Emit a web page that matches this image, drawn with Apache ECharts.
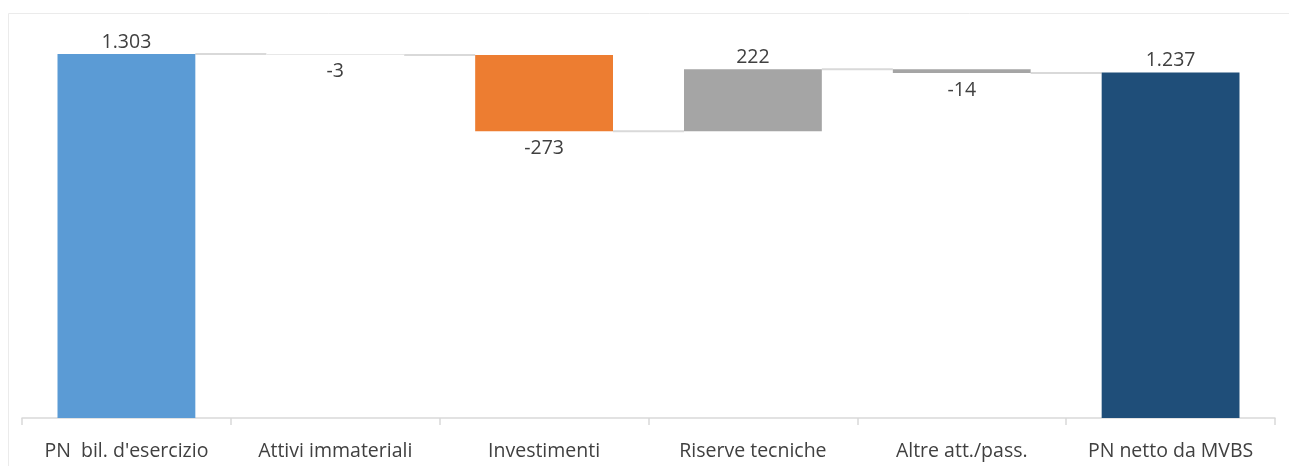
<!DOCTYPE html>
<html>
<head>
<meta charset="utf-8">
<script src="https://cdn.jsdelivr.net/npm/echarts@6/dist/echarts.min.js"></script>
<style>
  html, body { margin: 0; padding: 0; background: #fff; }
  #main { width: 1289px; height: 466px; }
</style>
</head>
<body>
<div id="main"></div>
<script>
// categorie e valori (cascata)
var categories = ["PN  bil. d'esercizio", "Attivi immateriali", "Investimenti", "Riserve tecniche", "Altre att./pass.", "PN netto da MVBS"];
var values = [1303, -3, -273, 222, -14, 1237];
var isTotal = [true, false, false, false, false, true];
var colors = ['#5B9BD5', '#E8E8E8', '#ED7D31', '#A5A5A5', '#A5A5A5', '#1F4E79'];

// base invisibile + segmento visibile
var base = [], delta = [], levels = [];
var running = 0;
for (var i = 0; i < values.length; i++) {
  var v = values[i];
  if (isTotal[i]) {
    base.push(0);
    delta.push({ value: v, raw: v });
    running = v;
  } else {
    var next = running + v;
    base.push(Math.min(running, next));
    delta.push({ value: Math.abs(v), raw: v });
    running = next;
  }
  levels.push(running);
}

function fmt(n) {
  var s = String(Math.abs(n)).replace(/\B(?=(\d{3})+(?!\d))/g, '.');
  return (n < 0 ? '-' : '') + s;
}

var deltaData = delta.map(function (d, i) {
  var neg = d.raw < 0;
  return {
    value: d.value,
    itemStyle: { color: colors[i] },
    label: {
      show: true,
      position: neg ? 'bottom' : 'top',
      distance: neg ? 7 : 2,
      formatter: fmt(d.raw)
    }
  };
});

// linee di collegamento tra le barre
var connectors = [];
for (var k = 0; k < values.length - 1; k++) connectors.push([k, levels[k]]);

var myChart = echarts.init(document.getElementById('main'));

var option = {
  animation: false,
  graphic: [{
    type: 'rect',
    left: 6, top: 11,
    shape: { width: 1300, height: 470 },
    style: { fill: 'none', stroke: '#EBEBEB', lineWidth: 1 },
    silent: true
  }],
  grid: { left: 22, right: 14, top: 27, bottom: 48 },
  xAxis: {
    type: 'category',
    data: categories,
    axisLine: { lineStyle: { color: '#D9D9D9', width: 1.5 } },
    axisTick: { show: true, interval: 0, length: 7, lineStyle: { color: '#D9D9D9', width: 1.5 } },
    axisLabel: {
      interval: 0,
      margin: 23,
      fontSize: 19.5,
      color: '#404040',
      fontFamily: 'Open Sans'
    }
  },
  yAxis: {
    type: 'value',
    min: 0,
    max: 1400,
    show: false
  },
  series: [{
    type: 'bar',
    stack: 'wf',
    barWidth: '66%',
    silent: true,
    itemStyle: { color: 'transparent' },
    data: base
  }, {
    type: 'bar',
    stack: 'wf',
    barWidth: '66%',
    label: {
      fontSize: 19.5,
      color: '#404040',
      fontFamily: 'Open Sans'
    },
    data: deltaData,
    z: 3
  }, {
    type: 'custom',
    silent: true,
    z: 1,
    data: connectors,
    renderItem: function (params, api) {
      var p = api.coord([api.value(0), api.value(1)]);
      var bw = api.size([1, 0])[0];
      var half = bw * 0.33;
      return {
        type: 'line',
        shape: { x1: p[0] + half, y1: p[1], x2: p[0] + bw - half, y2: p[1] },
        style: { stroke: '#D9D9D9', lineWidth: 2 }
      };
    }
  }]
};

myChart.setOption(option);
</script>
</body>
</html>
